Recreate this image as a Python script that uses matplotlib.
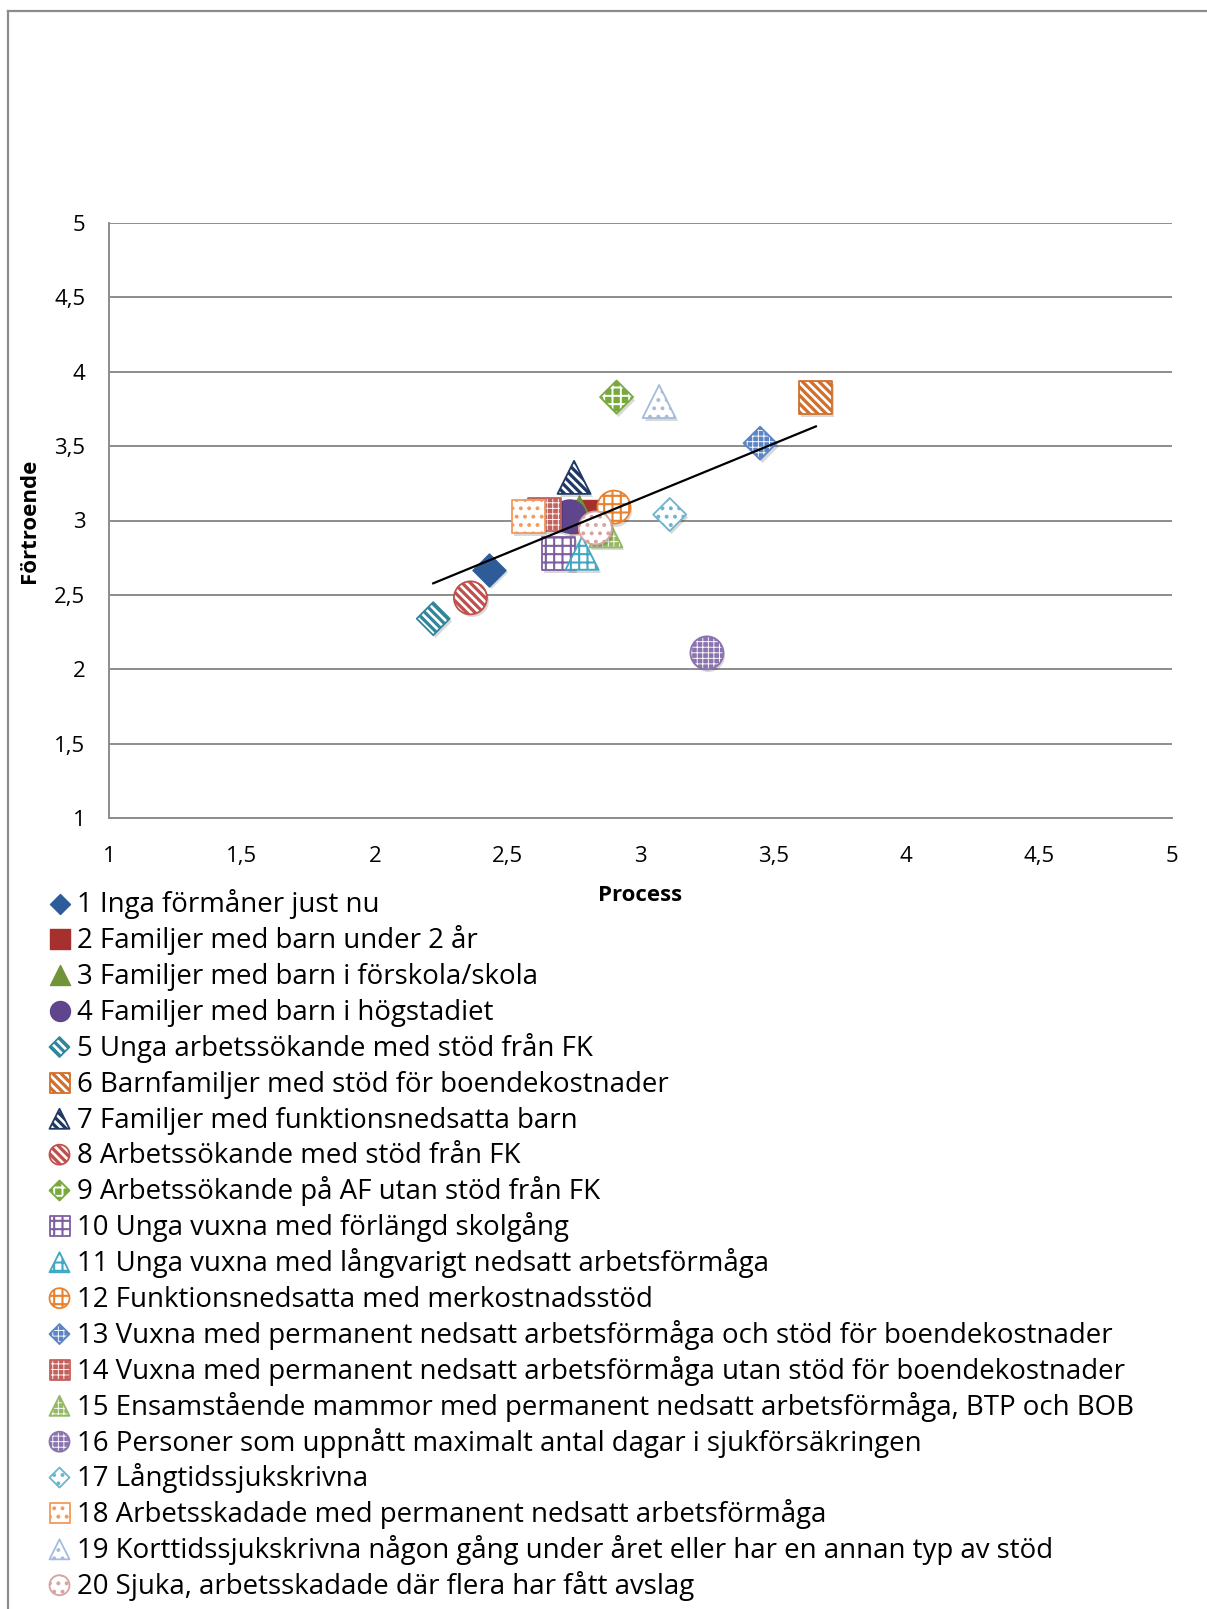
import matplotlib
matplotlib.use("Agg")
import matplotlib.pyplot as plt
import numpy as np
from matplotlib.lines import Line2D
from matplotlib.transforms import ScaledTranslation

plt.rcParams['font.family'] = ['Open Sans', 'DejaVu Sans']

# Groups, mean "Process" score (x) and mean "Förtroende" score (y)
labels = [
    "1 Inga förmåner just nu",
    "2 Familjer med barn under 2 år",
    "3 Familjer med barn i förskola/skola",
    "4 Familjer med barn i högstadiet",
    "5 Unga arbetssökande med stöd från FK",
    "6 Barnfamiljer med stöd för boendekostnader",
    "7 Familjer med funktionsnedsatta barn",
    "8 Arbetssökande med stöd från FK",
    "9 Arbetssökande på AF utan stöd från FK",
    "10 Unga vuxna med förlängd skolgång",
    "11 Unga vuxna med långvarigt nedsatt arbetsförmåga",
    "12 Funktionsnedsatta med merkostnadsstöd",
    "13 Vuxna med permanent nedsatt arbetsförmåga och stöd för boendekostnader",
    "14 Vuxna med permanent nedsatt arbetsförmåga utan stöd för boendekostnader",
    "15 Ensamstående mammor med permanent nedsatt arbetsförmåga, BTP och BOB",
    "16 Personer som uppnått maximalt antal dagar i sjukförsäkringen",
    "17 Långtidssjukskrivna",
    "18 Arbetsskadade med permanent nedsatt arbetsförmåga",
    "19 Korttidssjukskrivna någon gång under året eller har en annan typ av stöd",
    "20 Sjuka, arbetsskadade där flera har fått avslag",
]
process = [2.43, 2.79, 2.77, 2.73, 2.22, 3.66, 2.75, 2.36, 2.91, 2.69,
           2.78, 2.90, 3.45, 2.64, 2.87, 3.25, 3.11, 2.58, 3.07, 2.83]
fortroende = [2.67, 3.03, 3.06, 3.03, 2.34, 3.83, 3.29, 2.48, 3.83, 2.78,
              2.78, 3.09, 3.52, 3.04, 2.93, 2.11, 3.04, 3.03, 3.80, 2.95]

ticks = [1, 1.5, 2, 2.5, 3, 3.5, 4, 4.5, 5]
tick_labels = ["1", "1,5", "2", "2,5", "3", "3,5", "4", "4,5", "5"]

BS = chr(92)  # backslash for diagonal hatching
STRIPES = BS * 4

# marker style per group: (marker, colour, fill kind, hatch, hatch width)
#   solid: filled colour; cut: colour with white pattern;
#   line: white with coloured pattern
styles = [
    ('D', '#2E5C99', 'solid', None, 0),
    ('s', '#A5302D', 'solid', None, 0),
    ('^', '#71943A', 'solid', None, 0),
    ('o', '#5E458C', 'solid', None, 0),
    ('D', '#31869B', 'cut', STRIPES, 1.9),
    ('s', '#D0702C', 'cut', STRIPES, 1.9),
    ('^', '#1F3864', 'cut', STRIPES, 1.9),
    ('o', '#C0504D', 'cut', STRIPES, 1.9),
    ('D', '#77A93D', 'cut', '++', 1.4),
    ('s', '#7F5FA0', 'line', '++', 1.5),
    ('^', '#40A8C4', 'line', '++', 1.5),
    ('o', '#E8822E', 'line', '++', 1.5),
    ('D', '#5B84C4', 'cut', '+++', 0.65),
    ('s', '#C4615E', 'cut', '+++', 0.65),
    ('^', '#95B863', 'cut', '+++', 0.65),
    ('o', '#8A73AE', 'cut', '+++', 0.65),
    ('D', '#6DB4CF', 'line', '..', 1.6),
    ('s', '#F49A5C', 'line', '..', 1.6),
    ('^', '#A6BCDD', 'line', '..', 1.6),
    ('o', '#D6A3A0', 'line', '..', 1.6),
]

W, H = 1207, 1609
fig = plt.figure(figsize=(W / 100, H / 100), dpi=100)
ax = fig.add_axes([109 / W, 1 - 818 / H, 1063 / W, 595 / H])

shadow_shift = ScaledTranslation(1.5 / 100, -2.5 / 100, fig.dpi_scale_trans)


def marker_size(marker, px):
    # scatter sizes are points^2; diamonds are rotated squares
    pt = px * 0.72
    if marker == 'D':
        pt /= np.sqrt(2)
    return pt ** 2


def hatched(target, hlw, **kw):
    with plt.rc_context({'hatch.linewidth': hlw}):
        coll = target.scatter(**kw)
    if hasattr(coll, 'set_hatch_linewidth'):
        coll.set_hatch_linewidth(hlw)
    return coll


def draw_marker(target, x, y, style, px, z, shadow=True):
    marker, color, kind, hatch, hlw = style
    s = marker_size(marker, px)
    if shadow:
        target.scatter(x, y, s=s, marker=marker, color='black', alpha=0.15,
                       linewidth=0, zorder=z - 0.5,
                       transform=target.transData + shadow_shift)
    if kind == 'solid':
        target.scatter(x, y, s=s, marker=marker, facecolor=color,
                       edgecolor=color, linewidth=1, zorder=z)
    elif kind == 'cut':
        hatched(target, hlw, x=x, y=y, s=s, marker=marker, facecolor=color,
                edgecolor='white', linewidth=0, hatch=hatch, zorder=z)
        target.scatter(x, y, s=s, marker=marker, facecolor='none',
                       edgecolor=color, linewidth=1.3, zorder=z + 0.1)
    else:
        hatched(target, hlw, x=x, y=y, s=s, marker=marker, facecolor='white',
                edgecolor=color, linewidth=1.3, hatch=hatch, zorder=z)


for i, (px_, py_) in enumerate(zip(process, fortroende)):
    draw_marker(ax, px_, py_, styles[i], 33, 3 + i * 0.2)

# linear trendline over the range of the groups
k, m = np.polyfit(process, fortroende, 1)
xs = np.array([min(process), max(process)])
ax.plot(xs, k * xs + m, color='black', lw=1.6, zorder=10)

grey = '#8C8C8C'
ax.set_xlim(1, 5)
ax.set_ylim(1, 5)
ax.set_xticks(ticks)
ax.set_yticks(ticks)
ax.set_xticklabels(tick_labels)
ax.set_yticklabels(tick_labels)
ax.tick_params(length=0, labelsize=16, colors='black')
ax.tick_params(axis='x', pad=20)
ax.tick_params(axis='y', pad=17)
ax.yaxis.grid(True, color=grey, lw=1.4)
ax.set_axisbelow(True)
for side in ('top', 'right'):
    ax.spines[side].set_visible(False)
for side in ('left', 'bottom'):
    ax.spines[side].set_color(grey)
    ax.spines[side].set_linewidth(1.4)

ax.set_xlabel("Process", fontsize=16, fontweight='bold', va='center')
ax.set_ylabel("Förtroende", fontsize=16, fontweight='bold', va='center')
ax.xaxis.set_label_coords(0.5, -0.131)
ax.yaxis.set_label_coords(-0.0745, 0.5)

# legend below the plot, one group per row
lax = fig.add_axes([0, 0, 1, 1], zorder=-1)
lax.set_xlim(0, W)
lax.set_ylim(H, 0)
lax.axis('off')
row0, row_step = 903.5, 35.88
for i, label in enumerate(labels):
    yy = row0 + i * row_step
    draw_marker(lax, 59.5, yy, styles[i], 20, 3, shadow=False)
    lax.text(77, yy + 8.8, label, fontsize=19.9, va='baseline', ha='left')

# frame lines along the left and top edge
fig.add_artist(Line2D([7.5 / W, 7.5 / W], [0, 1 - 11 / H],
                      transform=fig.transFigure, color=grey, lw=1.6))
fig.add_artist(Line2D([7.5 / W, 1], [1 - 11 / H, 1 - 11 / H],
                      transform=fig.transFigure, color=grey, lw=1.6))

fig.savefig("out.png", dpi=100, facecolor='white')
